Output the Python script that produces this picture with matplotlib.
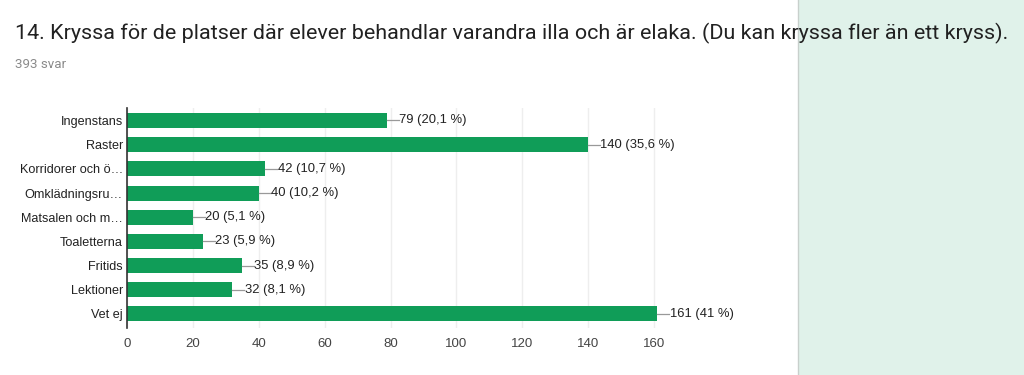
import matplotlib.pyplot as plt
from matplotlib.patches import Rectangle

plt.rcParams['font.family'] = ['Liberation Sans', 'DejaVu Sans']

# data
kategorier = ['Ingenstans', 'Raster', 'Korridorer och ö…', 'Omklädningsru…',
              'Matsalen och m…', 'Toaletterna', 'Fritids', 'Lektioner', 'Vet ej']
antal = [79, 140, 42, 40, 20, 23, 35, 32, 161]
procent = ['20,1', '35,6', '10,7', '10,2', '5,1', '5,9', '8,9', '8,1', '41']
xticks = [0, 20, 40, 60, 80, 100, 120, 140, 160]

fig = plt.figure(figsize=(10.24, 3.75), dpi=100)
fig.patch.set_facecolor('white')

# grön panel till höger
fig.patches.append(Rectangle((0.779, 0), 0.221, 1, transform=fig.transFigure,
                             facecolor='#e0f2ea', edgecolor='none', zorder=0))
fig.add_artist(plt.Line2D([0.779, 0.779], [0, 1], transform=fig.transFigure,
                          color='#c8d0cc', lw=1))

fig.text(15 / 1024, 1 - 33 / 375,
         '14. Kryssa för de platser där elever behandlar varandra illa och är elaka. (Du kan kryssa fler än ett kryss).',
         fontsize=15.45, color='#212121', va='center', ha='left',
         family=['Roboto', 'DejaVu Sans'])
fig.text(15 / 1024, 1 - 65 / 375, '393 svar', fontsize=9.6, color='#8a8a8a',
         va='center', ha='left', family=['Roboto', 'DejaVu Sans'])

ax = fig.add_axes([0.124, 0.1253, 0.547, 0.587])
y = list(range(len(kategorier)))
ax.barh(y, antal, height=0.62, color='#109d58', zorder=3)

for i, (v, p) in enumerate(zip(antal, procent)):
    ax.plot([v, v + 3.6], [i, i], color='#999999', lw=0.9, zorder=3)
    ax.text(v + 3.7, i, f'{v} ({p} %)', va='center', ha='left',
            fontsize=9.4, color='#222222')

ax.set_xlim(0, 170)
ax.set_ylim(8.58, -0.52)
ax.set_yticks(y)
ax.set_yticklabels(kategorier, fontsize=9.1, color='#222222')
ax.set_xticks(xticks)
ax.set_xticklabels([str(t) for t in xticks], fontsize=9.5, color='#444444')
ax.tick_params(length=0, pad=3)
ax.tick_params(axis='x', pad=7)
ax.grid(axis='x', color='#eeeeee', lw=1, zorder=0)
for s in ['top', 'right', 'bottom']:
    ax.spines[s].set_visible(False)
ax.spines['left'].set_color('#333333')
ax.spines['left'].set_linewidth(1.2)
ax.spines['left'].set_zorder(4)
ax.set_facecolor('none')

fig.savefig('out.png', dpi=100, facecolor='white')
